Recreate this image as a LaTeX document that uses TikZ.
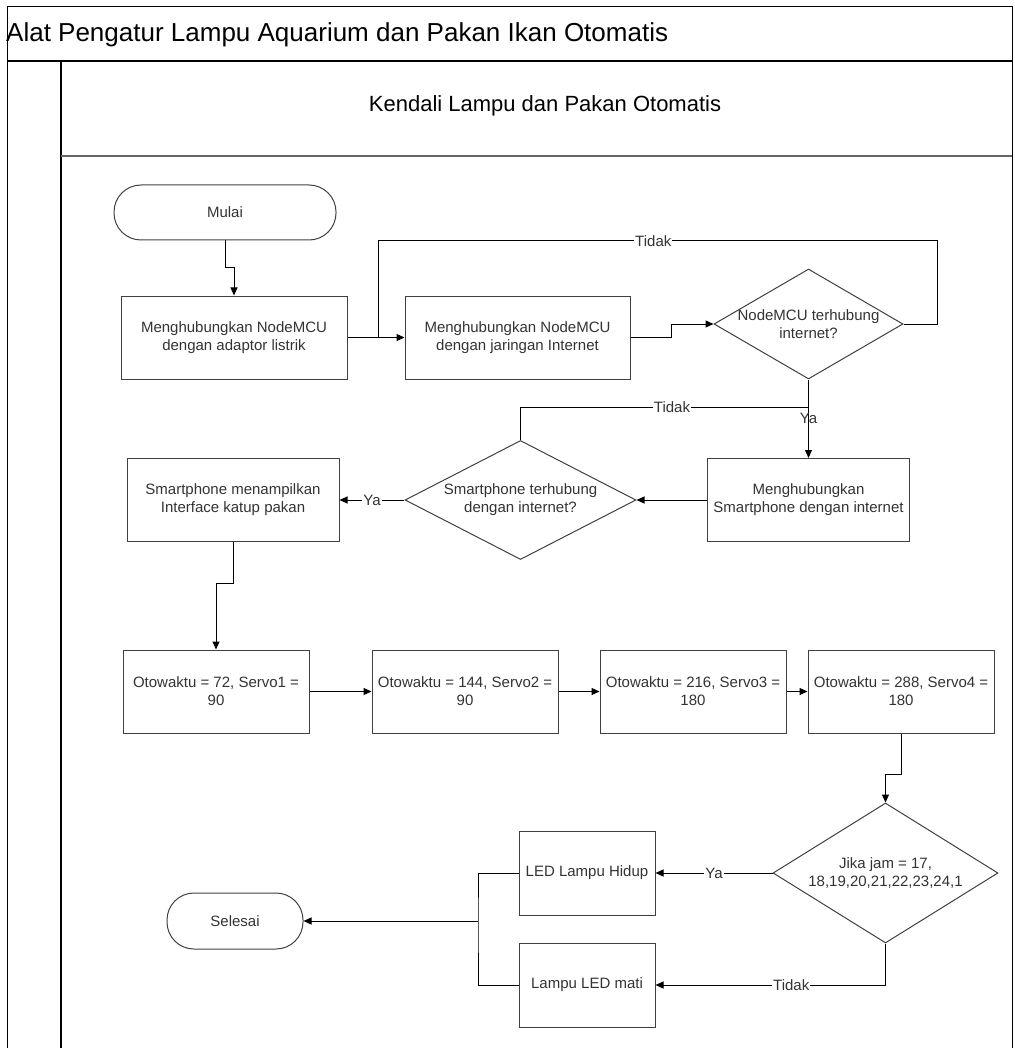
\documentclass[tikz,border=0pt]{standalone}
\usepackage{fontspec}
\setmainfont{Liberation Sans}
\usepackage{tikz}
\usetikzlibrary{shapes,arrows,positioning,calc,arrows.meta}

\begin{document}
\begin{tikzpicture}[x=1pt, y=-1pt, font=\fontsize{15}{18}\selectfont,
        proses/.style={draw=black!75, line width=1pt, rectangle, minimum width=186pt, minimum height=83pt, align=center, text=black!80, inner sep=2pt},
        keputusan/.style={draw=black!75, line width=1pt, diamond, inner sep=0pt},
        terminal/.style={draw=black!75, line width=1pt, rectangle, rounded corners=27pt, minimum width=136pt, minimum height=56pt, text=black!80},
        arr/.style={-{Triangle[length=8pt,width=7pt]}, line width=1pt},
        garis/.style={line width=1pt},
        ket/.style={fill=white, inner sep=1pt, text=black!80}]
        \useasboundingbox (0,0) rectangle (1014,1048);
        % bingkai dan lajur
        \draw [line width=1pt] (7,1048) -- (7,7) -- (1012,7) -- (1012,1048);
        \draw [line width=1.6pt] (7,61) -- (1012,61);
        \draw [line width=1.2pt] (61,61) -- (61,1048);
        \draw [line width=1.6pt, black!60] (61,156) -- (1012,156);
        \node [anchor=base west, inner sep=0pt, font=\fontsize{26}{30}\selectfont] (Judul) at (6,42) {Alat Pengatur Lampu Aquarium dan Pakan Ikan Otomatis};
        \node [anchor=base, inner sep=0pt, font=\fontsize{22}{26}\selectfont] (Lajur) at (545,112) {Kendali Lampu dan Pakan Otomatis};

        % node alur
        \node [terminal, minimum width=222pt, minimum height=55pt] (Mulai) at (225,212.5) {Mulai};
        \node [proses, minimum width=226pt] (Adaptor) at (234,337.5) {Menghubungkan NodeMCU\\dengan adaptor listrik};
        \node [proses, minimum width=225pt] (Jaringan) at (517.5,337.5) {Menghubungkan NodeMCU\\dengan jaringan Internet};
        \node [keputusan, minimum width=189pt, minimum height=110pt,
            label={[align=center, text=black!80]center:NodeMCU terhubung\\internet?}] (CekNode) at (808.5,324) {};
        \node [proses, minimum width=202pt] (HpNet) at (808.5,500) {Menghubungkan\\Smartphone dengan internet};
        \node [keputusan, minimum width=231pt, minimum height=119pt,
            label={[align=center, text=black!80]center:Smartphone terhubung\\dengan internet?}] (CekHp) at (520.5,500) {};
        \node [proses, minimum width=212pt] (Tampil) at (233,500) {Smartphone menampilkan\\Interface katup pakan};
        \node [proses] (Servo1) at (216,691.5) {Otowaktu = 72, Servo1 =\\90};
        \node [proses] (Servo2) at (465,691.5) {Otowaktu = 144, Servo2 =\\90};
        \node [proses] (Servo3) at (693,691.5) {Otowaktu = 216, Servo3 =\\180};
        \node [proses] (Servo4) at (901,691.5) {Otowaktu = 288, Servo4 =\\180};
        \node [keputusan, minimum width=225pt, minimum height=140pt,
            label={[align=center, text=black!80]center:Jika jam = 17,\\18,19,20,21,22,23,24,1}] (CekJam) at (885.5,873) {};
        \node [proses, minimum width=136pt, minimum height=84pt] (Hidup) at (587,873) {LED Lampu Hidup};
        \node [proses, minimum width=136pt, minimum height=84pt] (Mati) at (587,985) {Lampu LED mati};
        \node [terminal] (Selesai) at (235,921) {Selesai};

        \coordinate (Gabung1) at ($(Adaptor.east)!0.535!(Jaringan.west)$);
        \coordinate (Gabung2) at (808.5,407);
        \coordinate (Gabung3) at (478,921);

        % penghubung
        \draw [arr] (Mulai.south) -- ++(0,27) -| (Adaptor.north);
        \draw [arr] (Adaptor) -- (Jaringan);
        \draw [garis] (CekNode.east) -- ++(34,0) -- ++(0,-83) -| node [ket, pos=0.254] {Tidak} (Gabung1);
        \draw [arr] (Jaringan.east) -- ++(41,0) |- (CekNode.west);
        \draw [arr] (CekNode.south) -- node [text=black!80, inner sep=0pt] {Ya} (HpNet.north);
        \draw [garis] (CekHp.north) |- node [ket, pos=0.763] {Tidak} (Gabung2);
        \draw [arr] (HpNet) -- (CekHp);
        \draw [arr] (CekHp) -- node [ket] {Ya} (Tampil);
        \draw [arr] (Tampil.south) -- ++(0,41) -| (Servo1.north);
        \draw [arr] (Servo1) -- (Servo2);
        \draw [arr] (Servo2) -- (Servo3);
        \draw [arr] (Servo3) -- (Servo4);
        \draw [arr] (Servo4.south) -- ++(0,41) -| (CekJam.north);
        \draw [arr] (CekJam) -- node [ket] {Ya} (Hidup);
        \draw [arr] (CekJam.south) |- node [ket, pos=0.705] {Tidak} (Mati);
        \draw [garis] (Hidup.west) -| (Gabung3) |- (Mati.west);
        \draw [arr] (Gabung3) -- (Selesai);
\end{tikzpicture}
\end{document}
